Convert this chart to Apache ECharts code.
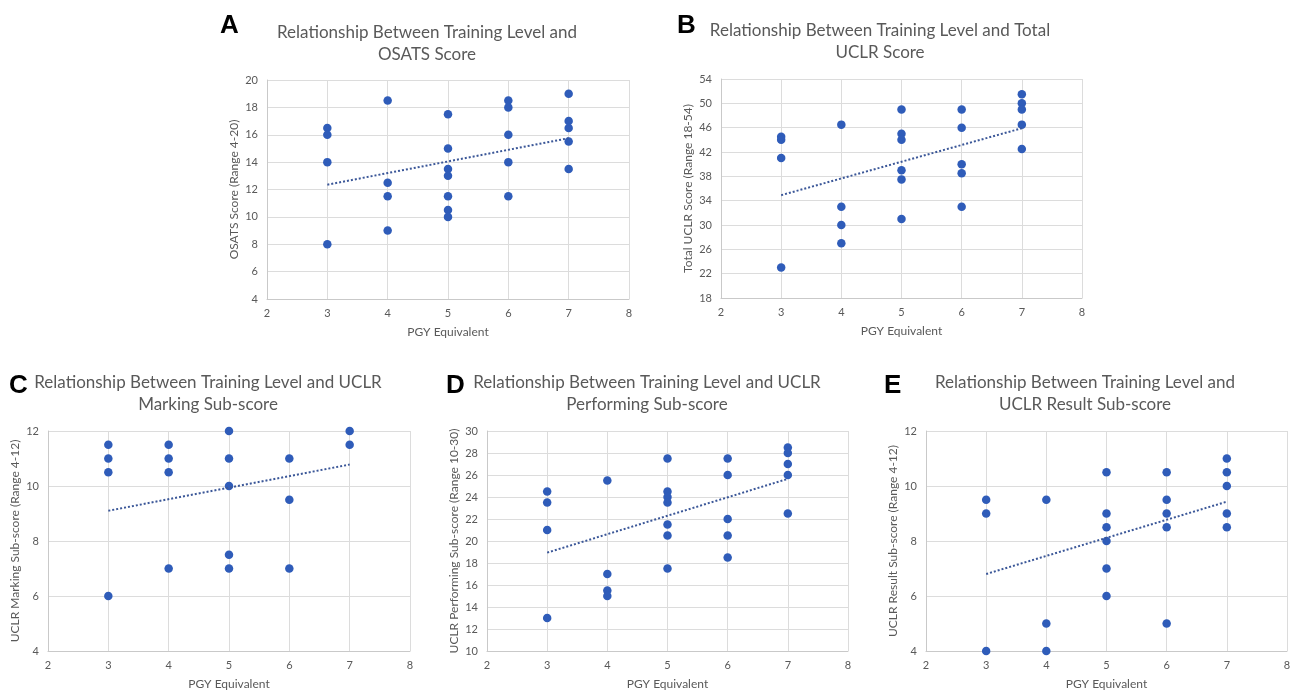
<!DOCTYPE html>
<html>
<head>
<meta charset="utf-8">
<script src="https://cdn.jsdelivr.net/npm/echarts@6/dist/echarts.min.js"></script>
<style>
  html, body { margin: 0; padding: 0; background: #fff; }
  #chart { width: 1295px; height: 692px; }
</style>
</head>
<body>
<div id="chart"></div>
<script>
// PGY level of each resident, shared order for every panel
var pgyA = [3,3,3,3, 4,4,4,4, 5,5,5,5,5,5,5, 6,6,6,6,6, 7,7,7,7,7];
var osatsA = [16.5,16,14,8, 18.5,12.5,11.5,9, 17.5,15,13.5,13,11.5,10.5,10, 18.5,18,16,14,11.5, 19,17,16.5,15.5,13.5];

var pgyB = [3,3,3,3, 4,4,4,4, 5,5,5,5,5,5, 6,6,6,6,6, 7,7,7,7,7];
var totalB = [44.5,44,41,23, 46.5,33,30,27, 49,45,44,39,37.5,31, 49,46,40,38.5,33, 51.5,50,49,46.5,42.5];

var pgyC = [3,3,3,3, 4,4,4,4, 5,5,5,5,5, 6,6,6, 7,7];
var markingC = [11.5,11,10.5,6, 11.5,11,10.5,7, 12,11,10,7.5,7, 11,9.5,7, 12,11.5];

var pgyD = [3,3,3,3, 4,4,4,4, 5,5,5,5,5,5,5, 6,6,6,6,6, 7,7,7,7,7];
var performingD = [24.5,23.5,21,13, 25.5,17,15.5,15, 27.5,24.5,24,23.5,21.5,20.5,17.5, 27.5,26,22,20.5,18.5, 28.5,28,27,26,22.5];

var pgyE = [3,3,3, 4,4,4, 5,5,5,5,5,5, 6,6,6,6,6, 7,7,7,7,7];
var resultE = [9.5,9,4, 9.5,5,4, 10.5,9,8.5,8,7,6, 10.5,9.5,9,8.5,5, 11,10.5,10,9,8.5];

// linear trend lines, read at PGY 3 and 7
var trendX = [3, 7];
var trendA = [12.35, 15.75];
var trendB = [34.9, 45.9];
var trendC = [9.1, 10.78];
var trendD = [18.94, 25.65];
var trendE = [6.8, 9.43];

var panels = [
  { letter: 'A', title: 'Relationship Between Training Level and\nOSATS Score', yName: 'OSATS Score (Range 4-20)',
    xs: pgyA, ys: osatsA, trend: trendA, yMin: 4, yMax: 20, yStep: 2,
    grid: { left: 267, top: 80, width: 362, height: 219 }, titleX: 427, titleY: 22, letterX: 220, letterY: 13 },
  { letter: 'B', title: 'Relationship Between Training Level and Total\nUCLR Score', yName: 'Total UCLR Score (Range 18-54)',
    xs: pgyB, ys: totalB, trend: trendB, yMin: 18, yMax: 54, yStep: 4,
    grid: { left: 721, top: 79, width: 361, height: 219 }, titleX: 880, titleY: 20, letterX: 677, letterY: 13 },
  { letter: 'C', title: 'Relationship Between Training Level and UCLR\nMarking Sub-score', yName: 'UCLR Marking Sub-score (Range 4-12)',
    xs: pgyC, ys: markingC, trend: trendC, yMin: 4, yMax: 12, yStep: 2,
    grid: { left: 48, top: 431, width: 362, height: 220 }, titleX: 208, titleY: 372, letterX: 9, letterY: 373 },
  { letter: 'D', title: 'Relationship Between Training Level and UCLR\nPerforming Sub-score', yName: 'UCLR Performing Sub-score (Range 10-30)',
    xs: pgyD, ys: performingD, trend: trendD, yMin: 10, yMax: 30, yStep: 2,
    grid: { left: 487, top: 431, width: 361, height: 220 }, titleX: 647, titleY: 372, letterX: 446, letterY: 373 },
  { letter: 'E', title: 'Relationship Between Training Level and\nUCLR Result Sub-score', yName: 'UCLR Result Sub-score (Range 4-12)',
    xs: pgyE, ys: resultE, trend: trendE, yMin: 4, yMax: 12, yStep: 2,
    grid: { left: 926, top: 431, width: 361, height: 220 }, titleX: 1085, titleY: 372, letterX: 884, letterY: 373 }
];

var textColor = '#595959';
var fontFam = 'Lato, "Open Sans", sans-serif';

var titles = [], grids = [], xAxes = [], yAxes = [], series = [];
for (var i = 0; i < panels.length; i++) {
  var p = panels[i];
  titles.push({
    text: p.title, left: p.titleX, top: p.titleY, textAlign: 'center', padding: 0,
    textStyle: { fontFamily: fontFam, fontSize: 17, fontWeight: 'normal', color: textColor, lineHeight: 22 }
  });
  titles.push({
    text: p.letter, left: p.letterX, top: p.letterY, padding: 0,
    textStyle: { fontFamily: '"Liberation Sans", Arial, sans-serif', fontSize: 26, fontWeight: 'bold', color: '#000' }
  });
  grids.push(p.grid);
  xAxes.push({
    gridIndex: i, type: 'value', min: 2, max: 8, interval: 1,
    name: 'PGY Equivalent', nameLocation: 'middle', nameGap: 27,
    nameTextStyle: { fontFamily: fontFam, fontSize: 12, color: textColor },
    axisLine: { lineStyle: { color: '#c9c9c9' } },
    axisTick: { show: false },
    axisLabel: { fontFamily: fontFam, fontSize: 11, color: textColor, margin: 9 },
    splitLine: { show: true, lineStyle: { color: '#dcdcdc' } }
  });
  yAxes.push({
    gridIndex: i, type: 'value', min: p.yMin, max: p.yMax, interval: p.yStep,
    name: p.yName, nameLocation: 'middle', nameGap: 27,
    nameTextStyle: { fontFamily: fontFam, fontSize: 12, color: textColor },
    axisLine: { show: true, lineStyle: { color: '#c9c9c9' } },
    axisTick: { show: false },
    axisLabel: { fontFamily: fontFam, fontSize: 11, color: textColor, margin: 9 },
    splitLine: { show: true, lineStyle: { color: '#dcdcdc' } }
  });
  var pts = [];
  for (var k = 0; k < p.xs.length; k++) pts.push([p.xs[k], p.ys[k]]);
  series.push({
    type: 'scatter', xAxisIndex: i, yAxisIndex: i, data: pts,
    symbolSize: 8.5, itemStyle: { color: '#2f5cb9', opacity: 1 }, z: 3
  });
  series.push({
    type: 'line', xAxisIndex: i, yAxisIndex: i,
    data: [[trendX[0], p.trend[0]], [trendX[1], p.trend[1]]],
    symbol: 'none', lineStyle: { type: 'dotted', width: 2, color: '#3b5798' }, z: 4
  });
}

var myChart = echarts.init(document.getElementById('chart'));
myChart.setOption({
  animation: false,
  title: titles,
  grid: grids,
  xAxis: xAxes,
  yAxis: yAxes,
  series: series
});
</script>
</body>
</html>
